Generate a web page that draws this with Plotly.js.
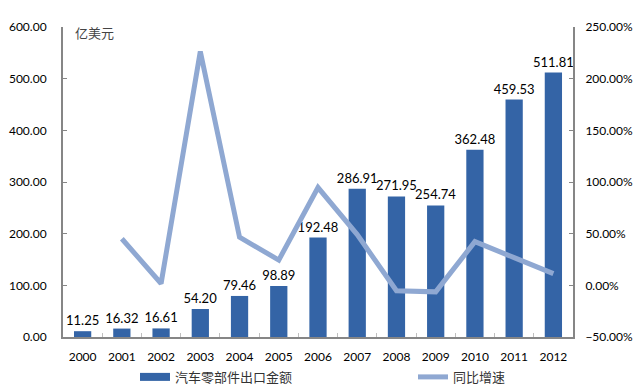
<!DOCTYPE html>
<html>
<head>
<meta charset="utf-8">
<script src="https://cdn.plot.ly/plotly-3.0.1.min.js"></script>
<style>html,body{margin:0;padding:0;background:#fff;}#chart{width:639px;height:389px;}</style>
</head>
<body>
<div id="chart"></div>
<script>
var years = ['2000','2001','2002','2003','2004','2005','2006','2007','2008','2009','2010','2011','2012'];
var exportValue = [11.25, 16.32, 16.61, 54.20, 79.46, 98.89, 192.48, 286.91, 271.95, 254.74, 362.48, 459.53, 511.81];
var growthYears = ['2001','2002','2003','2004','2005','2006','2007','2008','2009','2010','2011','2012'];
var growthRate = [0.4507, 0.0178, 2.2631, 0.4661, 0.2445, 0.9464, 0.4906, -0.0521, -0.0633, 0.4229, 0.2677, 0.1138];
var barName = '汽车零部件出口金额';
var lineName = '同比增速';
var unitLabel = '亿美元';

var fontFam = 'Lato, "Noto Sans CJK SC", sans-serif';
var cjkFam = '"Noto Sans CJK SC", sans-serif';
var barColor = '#3464a6';

var traces = [
  {
    type: 'bar', x: years, y: exportValue, name: barName, showlegend: false,
    marker: {color: barColor},
    text: exportValue.map(function(v){return v.toFixed(2);}),
    textposition: 'outside', cliponaxis: false, constraintext: 'none',
    textfont: {size: 13, color: '#000', family: fontFam}
  },
  {
    type: 'scatter', mode: 'lines', x: [years[0]], y: [null], name: barName,
    line: {color: barColor, width: 8}, hoverinfo: 'skip', legend: 'legend'
  },
  {
    type: 'scatter', mode: 'lines', x: growthYears, y: growthRate, name: lineName,
    yaxis: 'y2', line: {color: '#8fa8d2', width: 5}, legend: 'legend2'
  }
];

var legendCommon = {
  orientation: 'h', xref: 'container', yref: 'container',
  xanchor: 'left', y: 0.031, yanchor: 'middle', bgcolor: 'rgba(0,0,0,0)',
  font: {size: 13, color: '#333', family: cjkFam}
};

var layout = {
  width: 639, height: 389,
  margin: {l: 63, r: 66, t: 27, b: 52},
  paper_bgcolor: '#fff', plot_bgcolor: '#fff',
  font: {family: fontFam, size: 12, color: '#000'},
  bargap: 0.56,
  showlegend: true,
  legend: Object.assign({}, legendCommon, {x: 135 / 639}),
  legend2: Object.assign({}, legendCommon, {x: 413 / 639}),
  xaxis: {
    type: 'category', showline: true, linecolor: '#868686', linewidth: 2,
    ticks: 'inside', ticklen: 4, tickcolor: '#bfbfbf', tickson: 'boundaries',
    showgrid: false, zeroline: false, tickfont: {size: 12}, ticklabelstandoff: 8
  },
  yaxis: {
    range: [0, 600], dtick: 100, tickformat: '.2f',
    showline: true, linecolor: '#868686', linewidth: 2,
    ticks: 'inside', ticklen: 4, tickcolor: '#868686',
    showgrid: false, zeroline: false, ticklabelstandoff: 12, tickfont: {size: 12}
  },
  yaxis2: {
    overlaying: 'y', side: 'right', range: [-0.5, 2.5], dtick: 0.5, tickformat: '.2%',
    showline: true, linecolor: '#868686', linewidth: 2,
    ticks: 'inside', ticklen: 4, tickcolor: '#868686',
    showgrid: false, zeroline: false, ticklabelstandoff: 8, tickfont: {size: 12}
  },
  annotations: [{
    text: unitLabel, xref: 'paper', yref: 'paper', x: 0.02, y: 1.02,
    xanchor: 'left', yanchor: 'top', showarrow: false,
    font: {size: 13, color: '#444', family: cjkFam}
  }]
};

Plotly.newPlot('chart', traces, layout, {displayModeBar: false, staticPlot: true});
</script>
</body>
</html>
